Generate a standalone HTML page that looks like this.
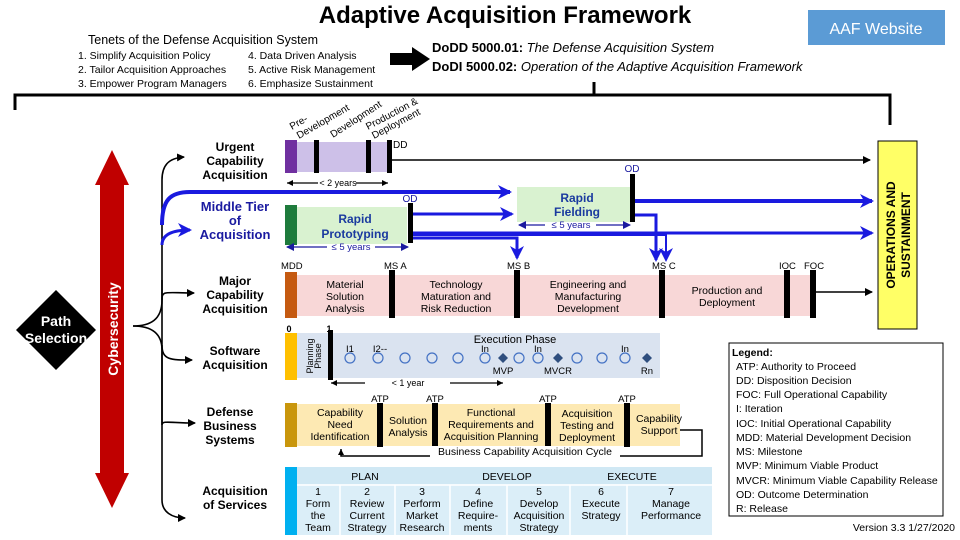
<!DOCTYPE html>
<html><head><meta charset="utf-8"><style>
html,body{margin:0;padding:0;background:#fff;}
svg{display:block;font-family:"Liberation Sans",sans-serif;}
</style></head><body>
<svg width="960" height="540" viewBox="0 0 960 540" xmlns="http://www.w3.org/2000/svg">
<defs>
<marker id="ab" markerWidth="8" markerHeight="8" refX="7" refY="4" orient="auto" markerUnits="userSpaceOnUse"><path d="M0,0L8,4L0,8z" fill="#000"/></marker>
<marker id="abs" markerWidth="6" markerHeight="6" refX="6" refY="3" orient="auto-start-reverse" markerUnits="userSpaceOnUse"><path d="M0,0L6,3L0,6z" fill="#000"/></marker>
<marker id="ablue" markerWidth="14" markerHeight="14" refX="12" refY="7" orient="auto" markerUnits="userSpaceOnUse"><path d="M0,0L14,7L0,14L4,7z" fill="#1a1adf"/></marker>
<marker id="ablues" markerWidth="8" markerHeight="8" refX="7" refY="4" orient="auto-start-reverse" markerUnits="userSpaceOnUse"><path d="M0,0L8,4L0,8z" fill="#1a1a9f"/></marker>
</defs>
<!-- Title -->
<text x="505" y="23" font-size="24" font-weight="bold" text-anchor="middle">Adaptive Acquisition Framework</text>
<rect x="808" y="10" width="137" height="35" fill="#5b9bd5"/>
<text x="876" y="34" font-size="16" fill="#fff" text-anchor="middle">AAF Website</text>
<text x="88" y="44" font-size="12.5">Tenets of the Defense Acquisition System</text>
<g font-size="10.5">
<text x="78" y="59">1. Simplify Acquisition Policy</text>
<text x="78" y="73">2. Tailor Acquisition Approaches</text>
<text x="78" y="87">3. Empower Program Managers</text>
<text x="248" y="59">4. Data Driven Analysis</text>
<text x="248" y="73">5. Active Risk Management</text>
<text x="248" y="87">6. Emphasize Sustainment</text>
</g>
<path d="M390,53h22v-6l18,12l-18,12v-6h-22z" fill="#000"/>
<text x="432" y="52" font-size="13"><tspan font-weight="bold">DoDD 5000.01:</tspan> <tspan font-style="italic">The Defense Acquisition System</tspan></text>
<text x="432" y="71" font-size="13"><tspan font-weight="bold">DoDI 5000.02:</tspan>  <tspan font-style="italic">Operation of the Adaptive Acquisition Framework</tspan></text>
<path d="M15,110V95H890V125M594,82V95" fill="none" stroke="#000" stroke-width="3"/>
<!-- diagonal labels -->
<g font-size="10">
<text transform="translate(292,130) rotate(-30)">Pre-</text>
<text transform="translate(299,139) rotate(-30)">Development</text>
<text transform="translate(333,138) rotate(-33)">Development</text>
<text transform="translate(368,130) rotate(-28)">Production &amp;</text>
<text transform="translate(374,139) rotate(-28)">Deployment</text>
</g>
<!-- Left side -->
<path d="M56,290L96,330L56,370L16,330z" fill="#000"/>
<text x="56" y="326" font-size="14" font-weight="bold" fill="#fff" text-anchor="middle">Path</text>
<text x="56" y="343" font-size="14" font-weight="bold" fill="#fff" text-anchor="middle">Selection</text>
<path d="M112,150L129,185H124V473H129L112,508L95,473H100V185H95z" fill="#c00000"/>
<text transform="translate(118,329) rotate(-90)" font-size="14" font-weight="bold" fill="#fff" text-anchor="middle">Cybersecurity</text>
<!-- bracket -->
<g fill="none" stroke="#000" stroke-width="1.6">
<path d="M133,326C150,326 162,320 162,300V180C162,166 168,158 184,157" marker-end="url(#ab)"/>
<path d="M162,300C162,290 165,293 194,293" marker-end="url(#ab)"/>
<path d="M133,326C150,326 162,332 162,350V500C162,512 172,518 185,518" marker-end="url(#ab)"/>
<path d="M162,345C162,360 170,360 192,360" marker-end="url(#ab)"/>
<path d="M162,280V425C162,420 170,423 195,423" marker-end="url(#ab)"/>
</g>
<path d="M162,225C162,200 170,192 190,192H510" fill="none" stroke="#1a1adf" stroke-width="4" marker-end="url(#ablue)"/>
<path d="M162,245C162,236 170,230 190,230" fill="none" stroke="#1a1adf" stroke-width="3" marker-end="url(#ablue)"/>
<!-- category labels -->
<g font-size="12" font-weight="bold" text-anchor="middle">
<text x="235" y="151">Urgent</text><text x="235" y="165">Capability</text><text x="235" y="179">Acquisition</text>
<g fill="#1a1aa0" font-size="13"><text x="235" y="211">Middle Tier</text><text x="235" y="225">of</text><text x="235" y="239">Acquisition</text></g>
<text x="235" y="285">Major</text><text x="235" y="299">Capability</text><text x="235" y="313">Acquisition</text>
<text x="235" y="355">Software</text><text x="235" y="369">Acquisition</text>
<text x="230" y="416">Defense</text><text x="230" y="430">Business</text><text x="230" y="444">Systems</text>
<text x="235" y="495">Acquisition</text><text x="235" y="509">of Services</text>
</g>
<!-- Urgent -->
<rect x="297" y="142" width="95" height="30" fill="#cdc0e8"/>
<rect x="285" y="140" width="12" height="33" fill="#7030a0"/>
<rect x="314" y="140" width="5" height="33" fill="#000"/>
<rect x="366" y="140" width="5" height="33" fill="#000"/>
<rect x="387" y="140" width="5" height="33" fill="#000"/>
<text x="393" y="148" font-size="10">DD</text>
<path d="M392,160H870" stroke="#000" stroke-width="1.5" marker-end="url(#ab)"/>
<path d="M287,183H318M356,183H388" stroke="#000" stroke-width="1.2" marker-start="url(#abs)" marker-end="url(#abs)"/>
<text x="338" y="186" font-size="9" text-anchor="middle">&lt; 2 years</text>
<!-- Middle tier -->
<rect x="297" y="207" width="110" height="37" fill="#d9f2d0"/>
<rect x="285" y="205" width="12" height="40" fill="#1e7b3c"/>
<rect x="408" y="203" width="5" height="40" fill="#000"/>
<text x="410" y="202" font-size="10" fill="#1a1a9f" text-anchor="middle">OD</text>
<text x="355" y="223" font-size="12" font-weight="bold" fill="#1a3a9f" text-anchor="middle">Rapid</text>
<text x="355" y="238" font-size="12" font-weight="bold" fill="#1a3a9f" text-anchor="middle">Prototyping</text>
<path d="M287,247H327M375,247H408" stroke="#1a1a9f" stroke-width="1.2" marker-start="url(#ablues)" marker-end="url(#ablues)"/>
<text x="351" y="250" font-size="9.5" fill="#1a1a9f" text-anchor="middle">≤ 5 years</text>
<rect x="517" y="187" width="113" height="35" fill="#d9f2d0"/>
<text x="577" y="202" font-size="12" font-weight="bold" fill="#1a3a9f" text-anchor="middle">Rapid</text>
<text x="577" y="216" font-size="12" font-weight="bold" fill="#1a3a9f" text-anchor="middle">Fielding</text>
<rect x="630" y="174" width="5" height="48" fill="#000"/>
<text x="632" y="172" font-size="10" fill="#1a1a9f" text-anchor="middle">OD</text>
<path d="M519,225H545M596,225H630" stroke="#1a1a9f" stroke-width="1.2" marker-start="url(#ablues)" marker-end="url(#ablues)"/>
<text x="571" y="228" font-size="9.5" fill="#1a1a9f" text-anchor="middle">≤ 5 years</text>
<g fill="none" stroke="#1a1adf">
<path d="M413,214H512" stroke-width="3" marker-end="url(#ablue)"/>
<path d="M635,201H872" stroke-width="4" marker-end="url(#ablue)"/>
<path d="M413,233H872" stroke-width="3" marker-end="url(#ablue)"/>
<path d="M413,238H517V258" stroke-width="3" marker-end="url(#ablue)"/>
<path d="M635,215H656V260" stroke-width="3" marker-end="url(#ablue)"/>
<path d="M413,235H666V260" stroke-width="2" marker-end="url(#ablue)"/>
</g>
<!-- O&S -->
<rect x="878" y="141" width="39" height="188" fill="#ffff66" stroke="#000" stroke-width="1"/>
<text transform="translate(895,235) rotate(-90)" font-size="12" font-weight="bold" text-anchor="middle">OPERATIONS AND</text>
<text transform="translate(910,235) rotate(-90)" font-size="12" font-weight="bold" text-anchor="middle">SUSTAINMENT</text>
<!-- Major -->
<rect x="297" y="275" width="515" height="41" fill="#f8d7d7"/>
<rect x="285" y="272" width="12" height="46" fill="#c55a11"/>
<g fill="#000"><rect x="389" y="270" width="6" height="48"/><rect x="514" y="270" width="6" height="48"/><rect x="659" y="270" width="6" height="48"/><rect x="784" y="270" width="6" height="48"/><rect x="810" y="270" width="6" height="48"/></g>
<g font-size="9.5"><text x="281" y="269">MDD</text><text x="384" y="269">MS A</text><text x="507" y="269">MS B</text><text x="652" y="269">MS C</text><text x="779" y="269">IOC</text><text x="804" y="269">FOC</text></g>
<path d="M816,292H872" stroke="#000" stroke-width="1.5" marker-end="url(#ab)"/>
<g font-size="10.5" text-anchor="middle">
<text x="345" y="288">Material</text><text x="345" y="300">Solution</text><text x="345" y="312">Analysis</text>
<text x="456" y="288">Technology</text><text x="456" y="300">Maturation and</text><text x="456" y="312">Risk Reduction</text>
<text x="588" y="288">Engineering and</text><text x="588" y="300">Manufacturing</text><text x="588" y="312">Development</text>
<text x="727" y="294">Production and</text><text x="727" y="306">Deployment</text>
</g>
<!-- Software -->
<rect x="297" y="333" width="363" height="45" fill="#dae3f0"/>
<rect x="285" y="333" width="12" height="47" fill="#ffc000"/>
<rect x="328" y="330" width="5" height="50" fill="#000"/>
<text x="289" y="332" font-size="9" font-weight="bold" text-anchor="middle">0</text>
<text x="329" y="332" font-size="9" font-weight="bold" text-anchor="middle">1</text>
<text transform="translate(313,356) rotate(-90)" font-size="9" text-anchor="middle">Planning</text>
<text transform="translate(321,356) rotate(-90)" font-size="9" text-anchor="middle">Phase</text>
<text x="515" y="343" font-size="11" text-anchor="middle">Execution Phase</text>
<g fill="none" stroke="#4472c4" stroke-width="1.2">
<circle cx="350" cy="358" r="5"/><circle cx="378" cy="358" r="5"/><circle cx="405" cy="358" r="5"/><circle cx="432" cy="358" r="5"/><circle cx="458" cy="358" r="5"/><circle cx="485" cy="358" r="5"/><circle cx="519" cy="358" r="5"/><circle cx="538" cy="358" r="5"/><circle cx="577" cy="358" r="5"/><circle cx="602" cy="358" r="5"/><circle cx="625" cy="358" r="5"/>
</g>
<g fill="#2f4f7f"><path d="M503,353l5,5l-5,5l-5,-5z"/><path d="M558,353l5,5l-5,5l-5,-5z"/><path d="M647,353l5,5l-5,5l-5,-5z"/></g>
<g font-size="9.5" text-anchor="middle"><text x="350" y="352">I1</text><text x="380" y="352">I2--</text><text x="485" y="352">In</text><text x="538" y="352">In</text><text x="625" y="352">In</text><text x="503" y="374">MVP</text><text x="558" y="374">MVCR</text><text x="647" y="374">Rn</text></g>
<path d="M331,383H365M450,383H503" stroke="#000" stroke-width="1.2" marker-start="url(#abs)" marker-end="url(#abs)"/>
<text x="408" y="386" font-size="9" text-anchor="middle">&lt; 1 year</text>
<!-- Defense business -->
<rect x="297" y="404" width="383" height="42" fill="#fde9b3"/>
<rect x="285" y="403" width="12" height="44" fill="#c9960c"/>
<g fill="#000"><rect x="377" y="403" width="6" height="44"/><rect x="432" y="403" width="6" height="44"/><rect x="545" y="403" width="6" height="44"/><rect x="624" y="403" width="6" height="44"/></g>
<g font-size="9.5" text-anchor="middle"><text x="380" y="402">ATP</text><text x="435" y="402">ATP</text><text x="548" y="402">ATP</text><text x="627" y="402">ATP</text></g>
<g font-size="10.5" text-anchor="middle">
<text x="340" y="416">Capability</text><text x="340" y="428">Need</text><text x="340" y="440">Identification</text>
<text x="408" y="424">Solution</text><text x="408" y="436">Analysis</text>
<text x="491" y="416">Functional</text><text x="491" y="428">Requirements and</text><text x="491" y="440">Acquisition Planning</text>
<text x="587" y="417">Acquisition</text><text x="587" y="429">Testing and</text><text x="587" y="441">Deployment</text>
<text x="659" y="422">Capability</text><text x="659" y="434">Support</text>
</g>
<path d="M680,430H702V456H341V449" fill="none" stroke="#000" stroke-width="1.5" marker-end="url(#abs)"/>
<rect x="430" y="446" width="190" height="12" fill="#fff"/>
<text x="525" y="455" font-size="10.5" text-anchor="middle">Business Capability Acquisition Cycle</text>
<!-- Services -->
<rect x="297" y="467" width="415" height="68" fill="#dbeef8"/>
<rect x="297" y="467" width="415" height="17" fill="#d0e8f4"/>
<rect x="285" y="467" width="12" height="68" fill="#00b0f0"/>
<path d="M297,485H712M340,485V535M395,485V535M450,485V535M507,485V535M570,485V535M627,485V535" stroke="#fff" stroke-width="1.5"/>
<g font-size="10.5" text-anchor="middle">
<text x="365" y="480">PLAN</text><text x="507" y="480">DEVELOP</text><text x="632" y="480">EXECUTE</text>
<text x="318" y="495">1</text><text x="318" y="507">Form</text><text x="318" y="519">the</text><text x="318" y="531">Team</text>
<text x="367" y="495">2</text><text x="367" y="507">Review</text><text x="367" y="519">Current</text><text x="367" y="531">Strategy</text>
<text x="422" y="495">3</text><text x="422" y="507">Perform</text><text x="422" y="519">Market</text><text x="422" y="531">Research</text>
<text x="478" y="495">4</text><text x="478" y="507">Define</text><text x="478" y="519">Require-</text><text x="478" y="531">ments</text>
<text x="539" y="495">5</text><text x="539" y="507">Develop</text><text x="539" y="519">Acquisition</text><text x="539" y="531">Strategy</text>
<text x="601" y="495">6</text><text x="601" y="507">Execute</text><text x="601" y="519">Strategy</text>
<text x="671" y="495">7</text><text x="671" y="507">Manage</text><text x="671" y="519">Performance</text>
</g>
<!-- Legend -->
<rect x="729" y="343" width="214" height="173" fill="#fff" stroke="#000" stroke-width="1"/>
<g font-size="10.5">
<text x="732" y="356" font-weight="bold">Legend:</text>
<text x="736" y="370">ATP: Authority to Proceed</text>
<text x="736" y="384">DD: Disposition Decision</text>
<text x="736" y="398">FOC: Full Operational Capability</text>
<text x="736" y="412">I: Iteration</text>
<text x="736" y="427">IOC: Initial Operational Capability</text>
<text x="736" y="441">MDD: Material Development Decision</text>
<text x="736" y="455">MS: Milestone</text>
<text x="736" y="469">MVP: Minimum Viable Product</text>
<text x="736" y="484">MVCR: Minimum Viable Capability Release</text>
<text x="736" y="498">OD: Outcome Determination</text>
<text x="736" y="512">R: Release</text>
<text x="955" y="531" text-anchor="end">Version 3.3 1/27/2020</text>
</g>
</svg>
</body></html>
